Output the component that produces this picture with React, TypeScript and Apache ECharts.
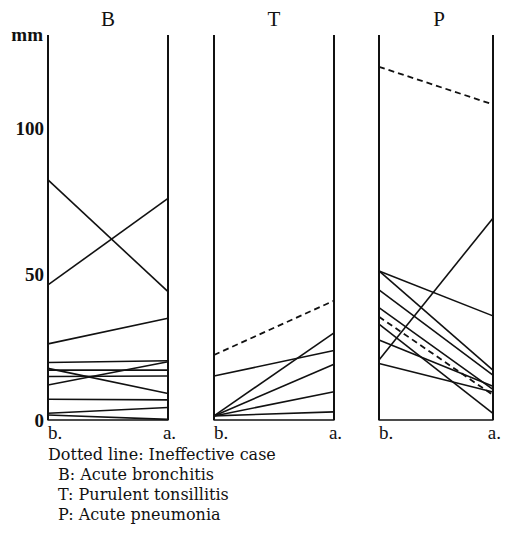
import React, { useEffect, useRef } from "react";
import * as echarts from "echarts";

const categories = ["b.", "a."];
const panelTitles = ["B", "T", "P"];
const yTicks = [0, 50, 100];

// B: Acute bronchitis
const bBefore = [82.3, 46.3, 26.1, 19.7, 17.7, 17.1, 14.9, 12.0, 7.1, 2.3, 1.7];
const bAfter = [44.0, 76.0, 34.9, 20.3, 9.1, 17.1, 15.1, 20.0, 6.9, 4.3, 0.2];
const bIneffective = [false, false, false, false, false, false, false, false, false, false, false];

// T: Purulent tonsillitis
const tBefore = [22.3, 15.1, 1.4, 1.4, 1.4, 1.4];
const tAfter = [40.9, 23.8, 29.9, 19.1, 9.7, 2.8];
const tIneffective = [true, false, false, false, false, false];

// P: Acute pneumonia
const pBefore = [121.1, 51.1, 51.1, 44.6, 38.5, 35.4, 32.9, 27.4, 20.6, 19.4];
const pAfter = [108.2, 35.7, 17.1, 15.4, 10.5, 8.6, 2.3, 11.6, 69.2, 9.6];
const pIneffective = [true, false, false, false, false, true, false, false, false, false];

const legendLines = [
  "Dotted line: Ineffective case",
  "B: Acute bronchitis",
  "T: Purulent tonsillitis",
  "P: Acute pneumonia",
];

const FONT = "'Liberation Serif', 'DejaVu Serif', serif";
const LEGEND_FONT = "'DejaVu Serif', 'Liberation Serif', serif";
const INK = "#111";

export default function App() {
  const ref = useRef<HTMLDivElement>(null);

  useEffect(() => {
    if (!ref.current) return;
    const chart = echarts.init(ref.current, null, { renderer: "svg" });

    const panels = [
      { before: bBefore, after: bAfter, dashed: bIneffective },
      { before: tBefore, after: tAfter, dashed: tIneffective },
      { before: pBefore, after: pAfter, dashed: pIneffective },
    ];
    const lefts = [40, 206, 371];
    const gridW = 120;

    const series: any[] = [];
    panels.forEach((p, i) => {
      p.before.forEach((v, k) => {
        series.push({
          type: "line",
          xAxisIndex: i,
          yAxisIndex: i,
          data: [v, p.after[k]],
          symbol: "none",
          silent: true,
          lineStyle: {
            color: INK,
            width: p.dashed[k] ? 1.8 : 1.6,
            type: p.dashed[k] ? [6, 4] : "solid",
          },
        });
      });
    });

    const option: any = {
      animation: false,
      backgroundColor: "#fff",
      title: panelTitles.map((t, i) => ({
        text: t,
        left: lefts[i] + gridW / 2,
        top: 0,
        padding: 0,
        textAlign: "center",
        textStyle: { fontFamily: FONT, fontSize: 21, fontWeight: "normal", color: INK },
      })),
      grid: lefts.map((l) => ({ left: l, width: gridW, top: 27, height: 385 })),
      xAxis: lefts.map((_, i) => ({
        type: "category",
        gridIndex: i,
        data: categories,
        boundaryGap: false,
        axisLine: { show: true, lineStyle: { color: INK, width: 1.5 } },
        axisTick: { show: false },
        splitLine: { show: true, lineStyle: { color: INK, width: 2 } },
        axisLabel: {
          margin: 3,
          color: INK,
          fontFamily: FONT,
          fontSize: 19,
          formatter: (v: string) => (v === "b." ? "{b|b.}" : "{a|a.}"),
          rich: {
            b: { fontFamily: FONT, fontSize: 19, color: INK, padding: [0, 0, 0, 14] },
            a: { fontFamily: FONT, fontSize: 19, color: INK, padding: [0, 0, 0, 3] },
          },
        },
      })),
      yAxis: lefts.map((_, i) => ({
        type: "value",
        gridIndex: i,
        min: 0,
        max: 132,
        interval: 50,
        axisLine: { show: false },
        axisTick: { show: false },
        splitLine: { show: false },
        name: i === 0 ? "mm" : "",
        nameLocation: "end",
        nameGap: 1,
        nameTextStyle: {
          align: "right",
          verticalAlign: "middle",
          padding: [0, 5, 0, 0],
          fontFamily: FONT,
          fontSize: 19,
          fontWeight: "bold",
          color: INK,
        },
        axisLabel: {
          show: i === 0,
          margin: 4,
          color: INK,
          fontFamily: FONT,
          fontSize: 19,
          fontWeight: "bold",
          showMaxLabel: false,
          formatter: (v: number) => (yTicks.includes(v) ? String(v) : ""),
        },
      })),
      series,
      graphic: legendLines.map((t, i) => ({
        type: "text",
        left: i === 0 ? 40 : 50,
        top: 438 + i * 20,
        style: { text: t, fontFamily: LEGEND_FONT, fontSize: 16, fill: INK },
      })),
    };

    chart.setOption(option);
    return () => chart.dispose();
  }, []);

  return <div ref={ref} style={{ width: 496, height: 537 }} />;
}
